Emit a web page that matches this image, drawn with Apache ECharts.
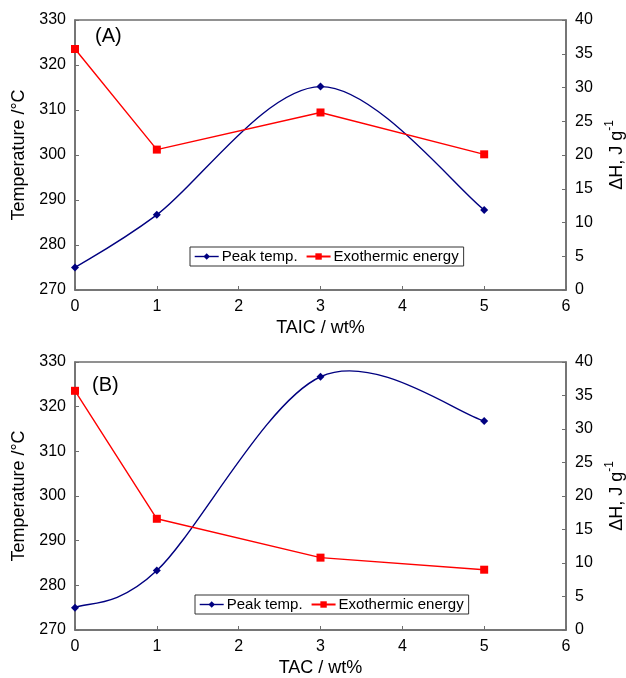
<!DOCTYPE html>
<html>
<head>
<meta charset="utf-8">
<script src="https://cdn.jsdelivr.net/npm/echarts@6/dist/echarts.min.js"></script>
<style>html,body{margin:0;padding:0;background:#fff}#c{width:626px;height:678px}</style>
</head>
<body>
<div id="c"></div>
<script>
// Data
var loadings = [0, 1, 3, 5];
var peakTempA = [275.0, 286.7, 315.2, 287.8];
var exoEnergyA = [35.7, 20.8, 26.3, 20.1];
var peakTempB = [275.0, 283.3, 326.7, 316.8];
var exoEnergyB = [35.7, 16.6, 10.8, 9.0];
var xTitles = ['TAIC / wt%', 'TAC / wt%'];
var panelLabels = ['(A)', '(B)'];
var seriesNames = ['Peak temp.', 'Exothermic energy'];

function pairs(xs, ys) { return xs.map(function (x, i) { return [x, ys[i]]; }); }

var FONT = '"Liberation Sans", Arial, sans-serif';
var AX = '#6e6e6e';
var BLUE = '#000080';
var RED = '#ff0000';
var LW = 1.4;

var grids = [
  { left: 75, right: 60, top: 20, height: 270 },
  { left: 75, right: 60, top: 362, height: 268 }
];

function xAxis(i) {
  return {
    type: 'value', gridIndex: i, min: 0, max: 6, interval: 1,
    name: xTitles[i], nameLocation: 'middle', nameGap: 29,
    nameTextStyle: { fontSize: 18, color: '#000', fontFamily: FONT },
    axisLine: { lineStyle: { color: AX, width: 1.5 } },
    axisTick: { inside: true, length: 4, lineStyle: { color: AX } },
    axisLabel: { fontSize: 16, color: '#000', fontFamily: FONT, margin: 9 },
    splitLine: { show: false }
  };
}
function yLeft(i) {
  return {
    type: 'value', gridIndex: i, min: 270, max: 330, interval: 10, position: 'left',
    name: 'Temperature /°C', nameLocation: 'middle', nameGap: 42, nameRotate: 90,
    nameTextStyle: { fontSize: 18, color: '#000', fontFamily: FONT },
    axisLine: { show: true, lineStyle: { color: AX, width: 1.5 } },
    axisTick: { show: true, inside: true, length: 4, lineStyle: { color: AX } },
    axisLabel: { fontSize: 16, color: '#000', fontFamily: FONT, margin: 9 },
    splitLine: { show: false }
  };
}
function yRight(i) {
  return {
    type: 'value', gridIndex: i, min: 0, max: 40, interval: 5, position: 'right',
    name: '{a|ΔH, J g}{s|-1}', nameLocation: 'middle', nameGap: 31, nameRotate: 90,
    nameTextStyle: {
      fontSize: 18, color: '#000', fontFamily: FONT,
      rich: {
        a: { fontSize: 18, color: '#000', fontFamily: FONT, lineHeight: 22, verticalAlign: 'bottom' },
        s: { fontSize: 12, color: '#000', fontFamily: FONT, verticalAlign: 'top' }
      }
    },
    axisLine: { show: true, lineStyle: { color: AX, width: 1.5 } },
    axisTick: { show: true, inside: true, length: 4, lineStyle: { color: AX } },
    axisLabel: { fontSize: 16, color: '#000', fontFamily: FONT, margin: 9 },
    splitLine: { show: false }
  };
}

// Smooth curve (spreadsheet-style Catmull-Rom Bezier) drawn through the axis scales
function curveSeries(i, ys) {
  var pts = pairs(loadings, ys);
  return {
    type: 'custom', coordinateSystem: 'cartesian2d', xAxisIndex: i, yAxisIndex: i * 2,
    data: pts, silent: true, animation: false, z: 2,
    renderItem: function (params, api) {
      var k = params.dataIndex, n = pts.length;
      if (k >= n - 1) return null;
      var P = function (j) { j = Math.max(0, Math.min(n - 1, j)); return api.coord(pts[j]); };
      var p0 = P(k - 1), p1 = P(k), p2 = P(k + 1), p3 = P(k + 2);
      return {
        type: 'bezierCurve',
        shape: {
          x1: p1[0], y1: p1[1], x2: p2[0], y2: p2[1],
          cpx1: p1[0] + (p2[0] - p0[0]) / 6, cpy1: p1[1] + (p2[1] - p0[1]) / 6,
          cpx2: p2[0] - (p3[0] - p1[0]) / 6, cpy2: p2[1] - (p3[1] - p1[1]) / 6
        },
        style: { stroke: BLUE, lineWidth: LW, fill: null }
      };
    }
  };
}
function peakSeries(i, ys) {
  return {
    name: seriesNames[0], type: 'line', xAxisIndex: i, yAxisIndex: i * 2,
    data: pairs(loadings, ys),
    symbol: 'diamond', symbolSize: 8,
    lineStyle: { color: BLUE, width: LW, opacity: 0 }, itemStyle: { color: BLUE },
    animation: false, z: 3
  };
}
function exoSeries(i, ys) {
  return {
    name: seriesNames[1], type: 'line', xAxisIndex: i, yAxisIndex: i * 2 + 1,
    data: pairs(loadings, ys),
    symbol: 'rect', symbolSize: 8,
    lineStyle: { color: RED, width: LW }, itemStyle: { color: RED },
    animation: false, z: 2
  };
}

function legend(left, top) {
  return {
    left: left, top: top, orient: 'horizontal',
    data: [
      { name: seriesNames[0], lineStyle: { color: BLUE, width: LW, opacity: 1 } },
      { name: seriesNames[1] }
    ],
    backgroundColor: '#fff', borderColor: '#333', borderWidth: 1,
    padding: [2, 5, 2, 4], itemGap: 8, itemWidth: 24, itemHeight: 8,
    textStyle: { fontSize: 15, color: '#000', fontFamily: FONT, padding: [0, 0, 0, -2] },
    selectedMode: false
  };
}

var chart = echarts.init(document.getElementById('c'), null, { renderer: 'canvas' });
chart.setOption({
  backgroundColor: '#fff',
  animation: false,
  grid: grids.map(function (g) {
    return Object.assign({ show: true, borderColor: AX, borderWidth: 1.5, backgroundColor: 'transparent', containLabel: false, outerBoundsMode: 'none' }, g);
  }),
  xAxis: [xAxis(0), xAxis(1)],
  yAxis: [yLeft(0), yRight(0), yLeft(1), yRight(1)],
  legend: [legend(190, 247), legend(195, 595)],
  graphic: [
    { type: 'text', left: 95, top: 26, style: { text: panelLabels[0], fontSize: 20, fill: '#000', fontFamily: FONT } },
    { type: 'text', left: 92, top: 375, style: { text: panelLabels[1], fontSize: 20, fill: '#000', fontFamily: FONT } }
  ],
  series: [
    curveSeries(0, peakTempA), peakSeries(0, peakTempA), exoSeries(0, exoEnergyA),
    curveSeries(1, peakTempB), peakSeries(1, peakTempB), exoSeries(1, exoEnergyB)
  ]
});
</script>
</body>
</html>
